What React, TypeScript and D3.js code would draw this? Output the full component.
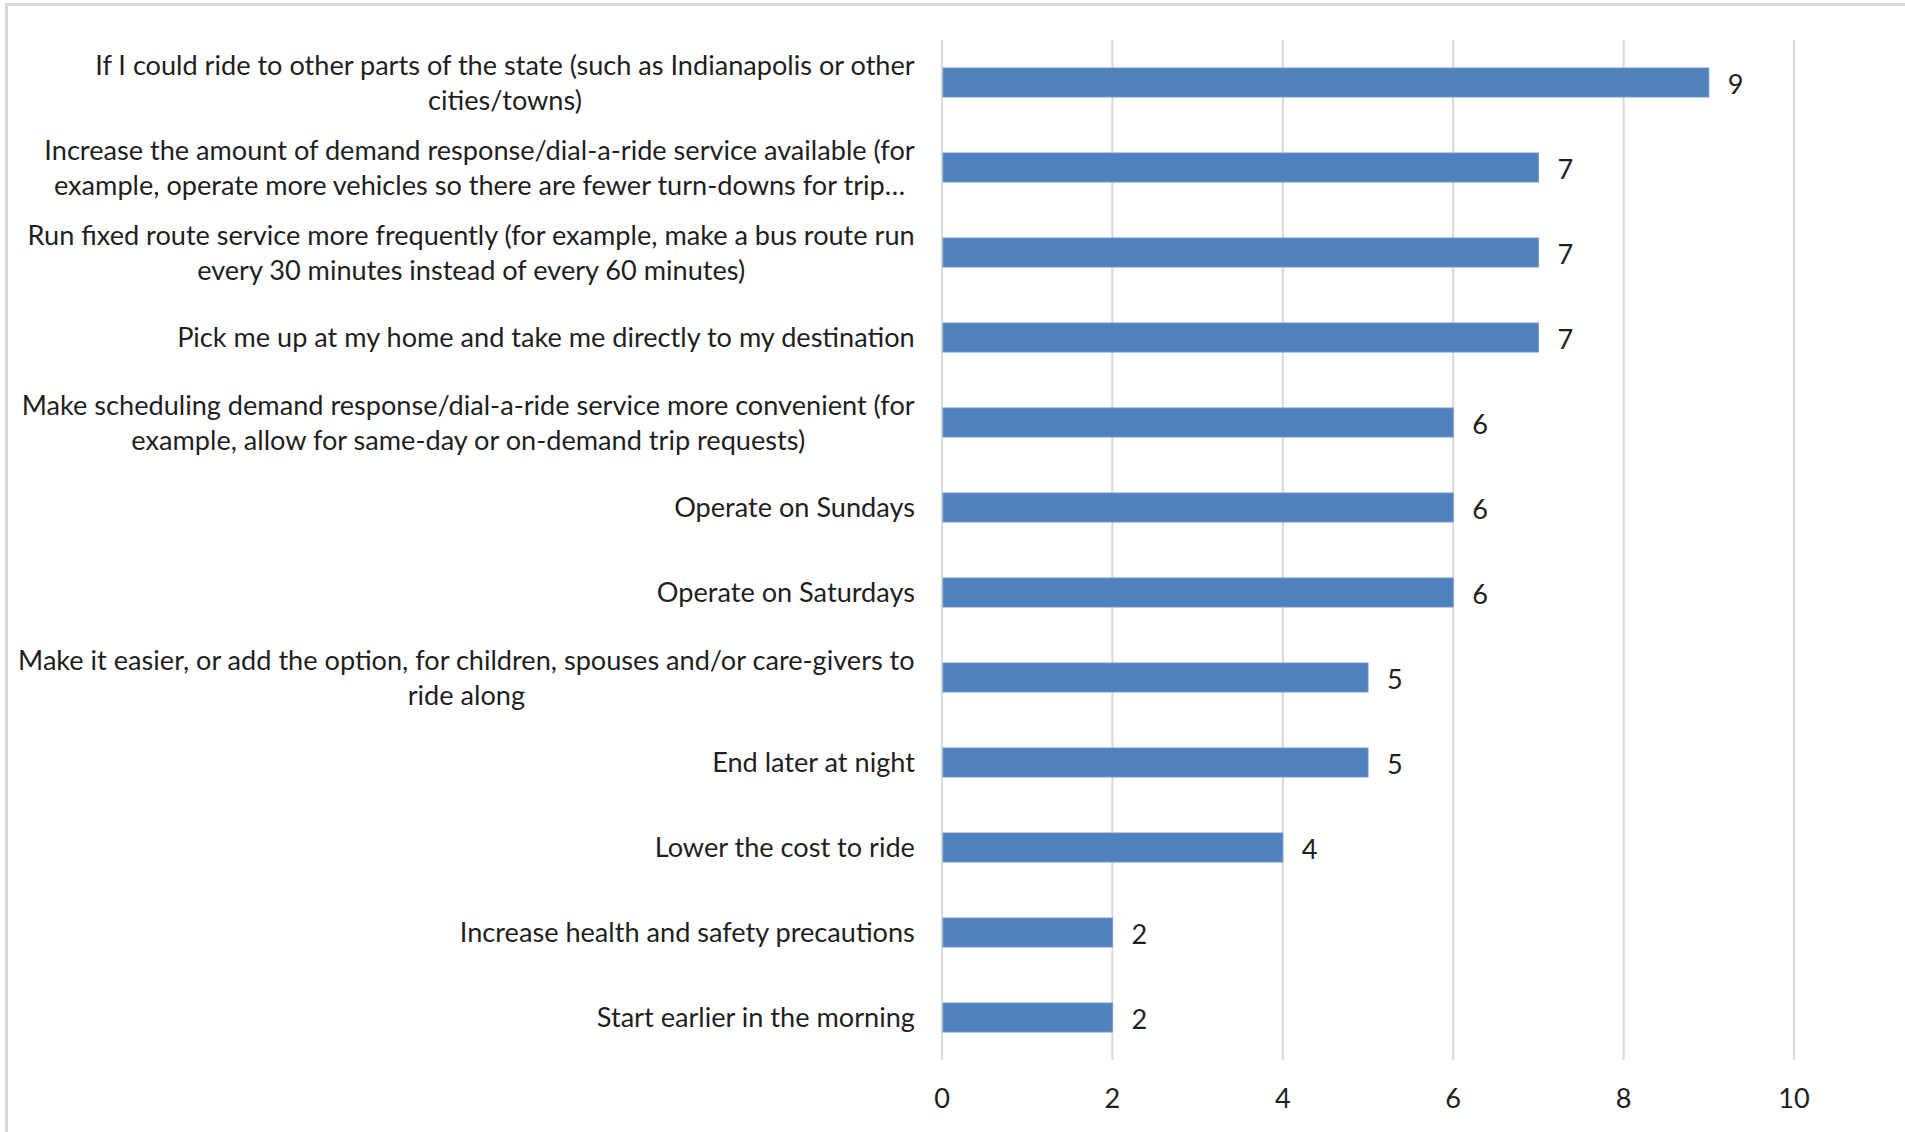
import React, { useEffect, useRef } from "react";
import * as d3 from "d3";

const categories: string[] = [
  "If I could ride to other parts of the state (such as Indianapolis or other\ncities/towns)",
  "Increase the amount of demand response/dial-a-ride service available (for\nexample, operate more vehicles so there are fewer turn-downs for trip…",
  "Run fixed route service more frequently (for example, make a bus route run\nevery 30 minutes instead of every 60 minutes)",
  "Pick me up at my home and take me directly to my destination",
  "Make scheduling demand response/dial-a-ride service more convenient (for\nexample, allow for same-day or on-demand trip requests)",
  "Operate on Sundays",
  "Operate on Saturdays",
  "Make it easier, or add the option, for children, spouses and/or care-givers to\nride along",
  "End later at night",
  "Lower the cost to ride",
  "Increase health and safety precautions",
  "Start earlier in the morning",
];

const values: number[] = [9, 7, 7, 7, 6, 6, 6, 5, 5, 4, 2, 2];

const xTicks: number[] = [0, 2, 4, 6, 8, 10];

const W = 1905;
const H = 1132;
const FONT = "Lato, 'Open Sans', sans-serif";
const FS = 27;
const SX = 1.005;
const TEXT = "#1f1f1f";

export default function App() {
  const ref = useRef<SVGSVGElement>(null);

  useEffect(() => {
    const svg = d3.select(ref.current);
    svg.selectAll("*").remove();

    const x = d3.scaleLinear().domain([0, 10]).range([942, 1794]);
    const y = d3
      .scaleBand<string>()
      .domain(categories)
      .range([40, 1060])
      .paddingInner(0.659)
      .paddingOuter(0.3295);

    // chart border
    svg
      .append("rect")
      .attr("x", 6.5)
      .attr("y", 4.5)
      .attr("width", W + 20)
      .attr("height", H + 20)
      .attr("fill", "#fff")
      .attr("stroke", "#d9d9d9")
      .attr("stroke-width", 3);

    // gridlines
    svg
      .append("g")
      .selectAll("line")
      .data(xTicks)
      .join("line")
      .attr("x1", (d) => x(d))
      .attr("x2", (d) => x(d))
      .attr("y1", 40)
      .attr("y2", 1060)
      .attr("stroke", "#d9d9d9")
      .attr("stroke-width", 2);

    // bars
    svg
      .append("g")
      .selectAll("rect")
      .data(categories)
      .join("rect")
      .attr("x", x(0) + 1)
      .attr("y", (d) => y(d)!)
      .attr("width", (d, i) => x(values[i]) - x(0) - 1)
      .attr("height", y.bandwidth())
      .attr("fill", "#4f81bd")
      .attr("stroke", "#6f99cc")
      .attr("stroke-width", 1);

    // value labels
    svg
      .append("g")
      .selectAll("text")
      .data(categories)
      .join("text")
      .attr(
        "transform",
        (d, i) => `translate(${x(values[i]) + 19},${y(d)! + y.bandwidth() / 2 + 2}) scale(${SX},1)`
      )
      .attr("dy", "0.36em")
      .attr("font-family", FONT)
      .attr("font-size", FS)
      .attr("fill", TEXT)
      .text((d, i) => String(values[i]));

    // tick labels
    svg
      .append("g")
      .selectAll("text")
      .data(xTicks)
      .join("text")
      .attr("transform", (d) => `translate(${x(d)},1098) scale(${SX},1)`)
      .attr("dy", "0.36em")
      .attr("text-anchor", "middle")
      .attr("font-family", FONT)
      .attr("font-size", FS)
      .attr("fill", TEXT)
      .text((d) => String(d));

    // category labels
    const labelRight = 915;
    const lineGap = 35;
    const gl = svg.append("g");
    categories.forEach((c) => {
      const lines = c.split("\n");
      const cy = y(c)! + y.bandwidth() / 2;
      const texts = lines.map((ln) =>
        gl
          .append("text")
          .attr("font-family", FONT)
          .attr("font-size", FS)
          .attr("fill", TEXT)
          .attr("text-anchor", "middle")
          .attr("dy", "0.36em")
          .text(ln)
      );
      const widths = texts.map((t) => (t.node() as SVGTextElement).getComputedTextLength() * SX);
      const maxW = d3.max(widths) || 0;
      const cx = labelRight - maxW / 2;
      texts.forEach((t, k) => {
        const ly = cy + (k - (lines.length - 1) / 2) * lineGap;
        t.attr("transform", `translate(${cx},${ly}) scale(${SX},1)`);
      });
    });
  }, []);

  return (
    <svg
      ref={ref}
      width={W}
      height={H}
      style={{ position: "absolute", left: 0, top: 0, display: "block" }}
    />
  );
}
